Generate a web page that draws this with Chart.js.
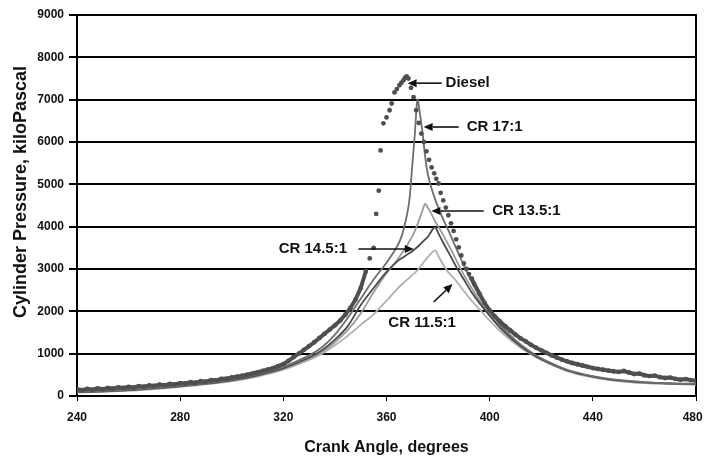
<!DOCTYPE html>
<html>
<head>
<meta charset="utf-8">
<script src="https://cdn.jsdelivr.net/npm/chart.js@4"></script>
<style>
  html, body { margin: 0; padding: 0; background: #fff; }
</style>
</head>
<body>
<canvas id="chart" width="705" height="464"></canvas>
<script>
const xTickValues = [240, 280, 320, 360, 400, 440, 480];
const yTickValues = [0, 1000, 2000, 3000, 4000, 5000, 6000, 7000, 8000, 9000];

// crank angle samples shared by the four compression-ratio curves
const crAngles = [240, 250, 260, 270, 280, 290, 300, 310, 320, 330, 335, 340, 345, 350, 355, 360,
  364, 366, 368, 369, 370, 371, 372, 373, 374, 375, 376, 377, 378, 379, 380,
  382, 384, 386, 388, 390, 393, 396, 400, 405, 410, 415, 420, 430, 440, 450, 460, 470, 480];

const cr17 = [100, 120, 150, 190, 240, 300, 390, 510, 690, 960, 1150, 1450, 1850, 2300, 2750, 3150,
  3520, 3800, 4300, 4700, 5450, 6200, 7000, 6650, 6200, 5650, 5250, 5000, 4800, 4620, 4460,
  4170, 3910, 3630, 3360, 3080, 2700, 2380, 2000, 1620, 1320, 1080, 890, 620, 470, 380, 330, 300, 285];

const cr145 = [90, 110, 140, 180, 230, 290, 370, 490, 660, 910, 1080, 1330, 1650, 2150, 2550, 2930,
  3170, 3260, 3340, 3380, 3420, 3470, 3520, 3580, 3640, 3700, 3760, 3850, 3950, 3980, 3860,
  3620, 3400, 3170, 2950, 2750, 2450, 2200, 1900, 1560, 1280, 1050, 870, 610, 460, 370, 320, 295, 280];

const cr135 = [90, 105, 135, 175, 225, 285, 365, 480, 640, 880, 1040, 1270, 1560, 1950, 2450, 2900,
  3200, 3380, 3560, 3670, 3770, 3900, 4050, 4220, 4400, 4540, 4450, 4350, 4230, 4110, 4010,
  3800, 3570, 3340, 3090, 2860, 2550, 2260, 1900, 1540, 1260, 1040, 860, 600, 450, 360, 310, 290, 275];

const cr115 = [80, 100, 125, 165, 215, 275, 350, 460, 620, 850, 1000, 1200, 1420, 1680, 1930, 2250,
  2520, 2640, 2750, 2800, 2860, 2910, 2970, 3050, 3130, 3210, 3280, 3350, 3410, 3440, 3320,
  3100, 2920, 2790, 2640, 2480, 2250, 2050, 1780, 1480, 1230, 1020, 850, 590, 440, 350, 305, 285, 270];

// diesel trace, sampled points
const dieselAngles = [240, 242, 244, 246, 248, 250, 252, 254, 256, 258, 260, 262, 264, 266, 268, 270,
  272, 274, 276, 278, 280, 282, 284, 286, 288, 290, 292, 294, 296, 298, 300, 302, 304, 306, 308, 310,
  312, 314, 316, 318, 320, 322, 324, 326, 328, 330, 332, 334, 336, 338, 340, 342, 344, 346, 348, 350, 352,
  353.5, 355, 356, 357, 357.7, 358.8, 360, 361.2, 362, 363.1, 364, 365, 365.8, 366.6, 367.2, 367.8,
  368.5, 369.5, 370.5, 371.5, 372.5, 373.5, 374.5, 375.5, 376.5, 377.5, 378.5, 379.3, 380.2, 381,
  382, 383, 384, 385, 386, 387, 388, 389, 390, 391, 392, 393,
  394, 396, 398, 400, 402, 404, 406, 408, 410, 412, 414, 416, 418, 420, 422, 424, 426, 428, 430,
  432, 434, 436, 438, 440, 442, 444, 446, 448, 450, 452, 454, 456, 458, 460, 462, 464, 466, 468, 470,
  472, 474, 476, 478, 480];

const dieselPressure = [160, 140, 170, 150, 180, 160, 190, 175, 205, 190, 215, 200, 235, 220, 250, 240,
  270, 255, 285, 275, 305, 295, 325, 315, 350, 340, 375, 370, 405, 410, 440, 455, 480, 505, 530, 560,
  590, 625, 660, 705, 755, 830, 920, 1000, 1090, 1180, 1270, 1370, 1470, 1570, 1670, 1780, 1920, 2080, 2280, 2550, 2950,
  3250, 3500, 4300, 4850, 5800, 6440, 6580, 6750, 6910, 7170, 7250, 7340, 7400, 7460, 7520, 7550,
  7500, 7280, 7060, 6750, 6450, 6200, 6000, 5780, 5580, 5400, 5260, 5130, 5020, 4800,
  4620, 4450, 4270, 4080, 3900, 3700, 3510, 3320, 3130, 3000, 2880, 2780,
  2650, 2420, 2200, 2020, 1880, 1760, 1650, 1550, 1450, 1360, 1290, 1210, 1140, 1080, 1020, 960, 910, 860, 820,
  780, 750, 720, 690, 660, 640, 620, 600, 585, 570, 590, 555, 520, 530, 490, 470, 480, 445, 425, 435,
  405, 385, 400, 375, 360];

const toPoints = (xs, ys) => xs.map((x, i) => ({ x: x, y: ys[i] }));

const FONT = "'Liberation Sans', Arial, sans-serif";
const dieselColor = '#4f4f4f';
const yTitle = 'Cylinder Pressure, kiloPascal';

// label + arrow call-outs (data coordinates)
const callouts = [
  { text: 'Diesel', x: 382.9, y: 7390, align: 'left', from: [381.4, 7390], to: [368.2, 7390] },
  { text: 'CR 17:1', x: 391.1, y: 6354, align: 'left', from: [388.0, 6354], to: [374.4, 6354] },
  { text: 'CR 13.5:1', x: 401.0, y: 4370, align: 'left', from: [397.7, 4370], to: [377.4, 4370] },
  { text: 'CR 14.5:1', x: 344.7, y: 3472, align: 'right', from: [349.1, 3472], to: [370.6, 3472] },
  { text: 'CR 11.5:1', x: 373.8, y: 1724, align: 'center', from: [378.3, 2220], to: [385.6, 2645] },
];

const calloutPlugin = {
  id: 'callouts',
  afterDatasetsDraw(chart) {
    const { ctx, scales } = chart;
    const xs = scales.x;
    const ys = scales.y;
    ctx.save();
    ctx.font = `bold 15px ${FONT}`;
    ctx.fillStyle = '#111';
    ctx.strokeStyle = '#111';
    ctx.lineWidth = 1.6;
    ctx.textBaseline = 'middle';
    callouts.forEach((c) => {
      ctx.textAlign = c.align;
      ctx.fillText(c.text, xs.getPixelForValue(c.x), ys.getPixelForValue(c.y));
      const x0 = xs.getPixelForValue(c.from[0]);
      const y0 = ys.getPixelForValue(c.from[1]);
      const x1 = xs.getPixelForValue(c.to[0]);
      const y1 = ys.getPixelForValue(c.to[1]);
      const ang = Math.atan2(y1 - y0, x1 - x0);
      const len = 9;
      const hw = 4;
      const bx = x1 - len * Math.cos(ang);
      const by = y1 - len * Math.sin(ang);
      ctx.beginPath();
      ctx.moveTo(x0, y0);
      ctx.lineTo(bx, by);
      ctx.stroke();
      ctx.beginPath();
      ctx.moveTo(x1, y1);
      ctx.lineTo(bx + hw * Math.sin(ang), by - hw * Math.cos(ang));
      ctx.lineTo(bx - hw * Math.sin(ang), by + hw * Math.cos(ang));
      ctx.closePath();
      ctx.fill();
    });
    // y axis title, placed a bit above the plot centre like the original
    ctx.translate(21.5, 192);
    ctx.rotate(-Math.PI / 2);
    ctx.textAlign = 'center';
    ctx.font = `bold 18px ${FONT}`;
    ctx.fillText(yTitle, 0, 0);
    ctx.restore();
  },
};

const lineSet = (label, ys, color, width) => ({
  label: label,
  data: toPoints(crAngles, ys),
  borderColor: color,
  borderWidth: width,
  pointRadius: 0,
  tension: 0.3,
  fill: false,
});

new Chart(document.getElementById('chart'), {
  type: 'line',
  data: {
    datasets: [
      {
        label: 'Diesel',
        data: toPoints(dieselAngles, dieselPressure),
        borderColor: 'rgba(0,0,0,0)',
        borderWidth: 4,
        pointRadius: 2.4,
        pointBackgroundColor: dieselColor,
        pointBorderWidth: 0,
        segment: {
          borderColor: (ctx) =>
            ctx.p1.parsed.x <= 352 || ctx.p0.parsed.x >= 393 ? dieselColor : undefined,
        },
      },
      lineSet('CR 17:1', cr17, '#6e6e6e', 1.8),
      lineSet('CR 14.5:1', cr145, '#4a4a4a', 1.8),
      lineSet('CR 13.5:1', cr135, '#9a9a9a', 1.8),
      lineSet('CR 11.5:1', cr115, '#b0b0b0', 1.8),
    ],
  },
  options: {
    responsive: false,
    animation: false,
    layout: { padding: { top: 15, left: 0, right: 0, bottom: 0 } },
    plugins: {
      legend: { display: false },
      tooltip: { enabled: false },
    },
    scales: {
      x: {
        type: 'linear',
        min: 240,
        max: 480,
        afterBuildTicks: (scale) => {
          scale.ticks = xTickValues.map((v) => ({ value: v }));
        },
        afterFit: (scale) => {
          scale.height = 68;
          scale.paddingLeft = 0;
          scale.paddingRight = 0;
        },
        grid: { drawOnChartArea: false, drawTicks: true, tickLength: 5, color: '#000', lineWidth: 1 },
        border: { display: true, color: '#000', width: 2 },
        ticks: {
          padding: 9,
          color: '#111',
          font: { family: FONT, size: 12, weight: 'bold' },
          // last label nudged left so it stays inside the frame
          callback: (v, i, ticks) => (i === ticks.length - 1 ? v + '\u2007' : String(v)),
        },
        title: {
          display: true,
          text: 'Crank Angle, degrees',
          color: '#111',
          font: { family: FONT, size: 16, weight: 'bold', lineHeight: 1.2 },
          padding: { top: 0, bottom: 6.4 },
        },
      },
      y: {
        min: 0,
        max: 9000,
        afterBuildTicks: (scale) => {
          scale.ticks = yTickValues.map((v) => ({ value: v }));
        },
        afterFit: (scale) => {
          scale.width = 77;
        },
        grid: { color: '#000', lineWidth: 2, tickLength: 8 },
        border: { display: true, color: '#000', width: 2 },
        ticks: {
          padding: 5,
          color: '#111',
          font: { family: FONT, size: 12, weight: 'bold' },
          callback: (v) => String(v),
        },
      },
      yRight: {
        position: 'right',
        min: 0,
        max: 9000,
        afterFit: (scale) => {
          scale.width = 9;
        },
        grid: { drawOnChartArea: false, drawTicks: false },
        border: { display: true, color: '#000', width: 2 },
        ticks: { display: false },
      },
    },
  },
  plugins: [calloutPlugin],
});
</script>
</body>
</html>
